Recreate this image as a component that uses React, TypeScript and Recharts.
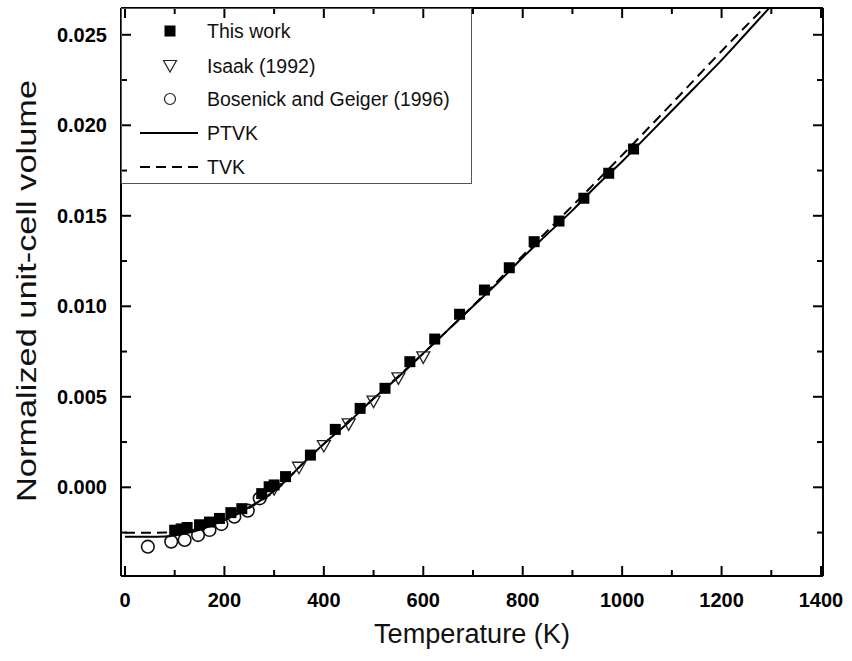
import {
  ComposedChart,
  Legend,
  Line,
  ReferenceLine,
  Scatter,
  XAxis,
  YAxis,
} from 'recharts'

// This work (squares)
const thisWorkT = [100, 113, 125, 150, 170, 190, 213, 235, 275, 290, 300, 323, 373, 423, 473, 523, 573, 623, 673, 723, 773, 823, 873, 923, 973, 1023]
const thisWorkV = [-0.00237, -0.0023, -0.00222, -0.00207, -0.00192, -0.00172, -0.0014, -0.00118, -0.00035, 0.00003, 0.00013, 0.00059, 0.00178, 0.0032, 0.00436, 0.00547, 0.00694, 0.00819, 0.00956, 0.0109, 0.01213, 0.01357, 0.01471, 0.01597, 0.01735, 0.01869]

// Isaak (1992) (open down-triangles)
const isaakT = [300, 350, 400, 450, 500, 550, 600]
const isaakV = [-0.0001, 0.00108, 0.00228, 0.00348, 0.00473, 0.00602, 0.00718]

// Bosenick and Geiger (1996) (open circles)
const bosenickT = [46, 93, 120, 147, 170, 194, 220, 247, 271]
const bosenickV = [-0.00328, -0.003, -0.00291, -0.00264, -0.00236, -0.00203, -0.00162, -0.00129, -0.00061]

// PTVK fit (solid)
const ptvkT = [0, 50, 80, 100, 125, 150, 175, 200, 225, 250, 275, 300, 325, 350, 400, 450, 500, 550, 600, 650, 700, 750, 800, 850, 900, 950, 1000, 1050, 1100, 1150, 1200, 1250, 1300]
const ptvkV = [-0.00273, -0.00273, -0.00272, -0.00265, -0.00253, -0.00235, -0.0021, -0.0018, -0.00146, -0.0011, -0.00068, -0.0002, 0.0004, 0.0011, 0.0024, 0.0036, 0.0049, 0.0061, 0.0074, 0.0087, 0.01, 0.0113, 0.0127, 0.014, 0.0153, 0.0167, 0.018, 0.0194, 0.0208, 0.0222, 0.0236, 0.0251, 0.0266]

// TVK fit (dashed)
const tvkT = [0, 50, 80, 100, 125, 150, 175, 200, 225, 250, 275, 300, 350, 400, 500, 600, 700, 800, 900, 1000, 1100, 1200, 1300]
const tvkV = [-0.00251, -0.00251, -0.0025, -0.00247, -0.0024, -0.00228, -0.00208, -0.00182, -0.0015, -0.00113, -0.00071, -0.00024, 0.0011, 0.0024, 0.0049, 0.0074, 0.01003, 0.0128, 0.01555, 0.01835, 0.0212, 0.0241, 0.0269]

const xTicks = [0, 100, 200, 300, 400, 500, 600, 700, 800, 900, 1000, 1100, 1200, 1300, 1400]
const yTicks = [-0.0025, 0, 0.0025, 0.005, 0.0075, 0.01, 0.0125, 0.015, 0.0175, 0.02, 0.0225, 0.025]

const legendLabels = ['This work', 'Isaak (1992)', 'Bosenick and Geiger (1996)', 'PTVK', 'TVK']

const toPoints = (t: number[], v: number[]) => t.map((T, i) => ({ T, V: v[i] }))

const FONT = '"Liberation Sans", Arial, sans-serif'
const PLOT = { left: 121, right: 823, top: 8, bottom: 576 }

const isMajor = (v: number, step: number) => Math.abs(Math.round(v / step) * step - v) < 1e-9

function LeftTick(props: any) {
  const { y, payload } = props
  const major = isMajor(payload.value, 0.005)
  const len = major ? 10 : 6
  return (
    <g>
      <path d={`M${PLOT.left},${y}h${len}`} stroke="#000" strokeWidth={2} fill="none" />
      <path d={`M${PLOT.right},${y}h${-len}`} stroke="#000" strokeWidth={2} fill="none" />
      {major && (
        <text
          x={107}
          y={y}
          textAnchor="end"
          dominantBaseline="central"
          fontFamily={FONT}
          fontWeight="bold"
          fontSize={20}
          fill="#000"
        >
          {payload.value.toFixed(3)}
        </text>
      )}
    </g>
  )
}

function BottomTick(props: any) {
  const { x, payload } = props
  const major = isMajor(payload.value, 200)
  const len = major ? 10 : 6
  return (
    <g>
      <path d={`M${x},${PLOT.bottom}v${-len}`} stroke="#000" strokeWidth={2} fill="none" />
      <path d={`M${x},${PLOT.top}v${len}`} stroke="#000" strokeWidth={2} fill="none" />
      {major && (
        <text
          x={x}
          y={600}
          textAnchor="middle"
          dominantBaseline="central"
          fontFamily={FONT}
          fontWeight="bold"
          fontSize={20}
          fill="#000"
        >
          {payload.value}
        </text>
      )}
    </g>
  )
}

const SquareDot = ({ cx, cy }: any) => (
  <rect x={cx - 5.5} y={cy - 5.5} width={11} height={11} fill="#000" />
)

const TriangleDot = ({ cx, cy }: any) => (
  <polygon
    points={`${cx - 6.5},${cy - 5.5} ${cx + 6.5},${cy - 5.5} ${cx},${cy + 6}`}
    fill="none"
    stroke="#222"
    strokeWidth={1.3}
  />
)

const CircleDot = ({ cx, cy }: any) => (
  <circle cx={cx} cy={cy} r={6.3} fill="none" stroke="#111" strokeWidth={1.6} />
)

function LegendBox() {
  const rowY = [23, 58, 91, 125, 159]
  const textStyle = { fontFamily: FONT, fontSize: 19.5, fill: '#111' }
  return (
    <svg width={351} height={176} style={{ display: 'block' }}>
      <rect x={0.5} y={0.5} width={350} height={175} fill="none" stroke="#555" strokeWidth={1} />
      <rect x={43.5} y={rowY[0] - 5.5} width={11} height={11} fill="#000" />
      <polygon
        points={`${42.5},${rowY[1] - 5.5} ${55.5},${rowY[1] - 5.5} ${49},${rowY[1] + 6}`}
        fill="none"
        stroke="#222"
        strokeWidth={1.2}
      />
      <circle cx={49} cy={rowY[2]} r={5.5} fill="none" stroke="#222" strokeWidth={1.2} />
      <line x1={19} x2={77} y1={rowY[3]} y2={rowY[3]} stroke="#000" strokeWidth={2} />
      <line x1={19} x2={77} y1={rowY[4]} y2={rowY[4]} stroke="#000" strokeWidth={2} strokeDasharray="10 6" />
      {legendLabels.map((label, i) => (
        <text key={label} x={86} y={rowY[i]} dominantBaseline="central" style={textStyle}>
          {label}
        </text>
      ))}
    </svg>
  )
}

export default function App() {
  return (
    <div style={{ position: 'absolute', left: 0, top: 0, width: 852, height: 661, background: '#fff' }}>
      <ComposedChart
        width={852}
        height={661}
        margin={{ top: 8, right: 29, bottom: 0, left: 0 }}
      >
        <XAxis
          type="number"
          dataKey="T"
          domain={[-8, 1404]}
          allowDataOverflow
          ticks={xTicks}
          interval={0}
          tickLine={false}
          tick={(p: any) => <BottomTick {...p} />}
          height={85}
          axisLine={{ stroke: '#000', strokeWidth: 2 }}
        />
        <YAxis
          type="number"
          dataKey="V"
          domain={[-0.0049, 0.02648]}
          allowDataOverflow
          ticks={yTicks}
          interval={0}
          tickLine={false}
          tick={(p: any) => <LeftTick {...p} />}
          width={121}
          axisLine={{ stroke: '#000', strokeWidth: 2 }}
        />
        <ReferenceLine y={0.02648} stroke="#000" strokeWidth={2} />
        <ReferenceLine x={1404} stroke="#000" strokeWidth={2} />
        <Legend
          layout="vertical"
          align="center"
          verticalAlign="middle"
          content={() => <LegendBox />}
          wrapperStyle={{ position: 'absolute', left: 121, top: 8, width: 351, height: 176 }}
        />
        <Line
          data={toPoints(ptvkT, ptvkV)}
          dataKey="V"
          name="PTVK"
          type="monotone"
          stroke="#000"
          strokeWidth={2}
          dot={false}
          isAnimationActive={false}
        />
        <Line
          data={toPoints(tvkT, tvkV)}
          dataKey="V"
          name="TVK"
          type="monotone"
          stroke="#000"
          strokeWidth={2}
          strokeDasharray="10 6"
          dot={false}
          isAnimationActive={false}
        />
        <Scatter
          data={toPoints(bosenickT, bosenickV)}
          dataKey="V"
          name="Bosenick and Geiger (1996)"
          shape={<CircleDot />}
          isAnimationActive={false}
        />
        <Scatter
          data={toPoints(isaakT, isaakV)}
          dataKey="V"
          name="Isaak (1992)"
          shape={<TriangleDot />}
          isAnimationActive={false}
        />
        <Scatter
          data={toPoints(thisWorkT, thisWorkV)}
          dataKey="V"
          name="This work"
          shape={<SquareDot />}
          isAnimationActive={false}
        />
      </ComposedChart>
      <svg width={852} height={661} style={{ position: 'absolute', left: 0, top: 0, pointerEvents: 'none' }}>
        <text
          x={472}
          y={634}
          textAnchor="middle"
          dominantBaseline="central"
          fontFamily={FONT}
          fontSize={27}
          textLength={196}
          lengthAdjust="spacingAndGlyphs"
          fill="#111"
        >
          Temperature (K)
        </text>
        <text
          x={0}
          y={0}
          transform="translate(27, 291) rotate(-90)"
          textAnchor="middle"
          dominantBaseline="central"
          fontFamily={FONT}
          fontSize={27}
          textLength={422}
          lengthAdjust="spacingAndGlyphs"
          fill="#111"
        >
          Normalized unit-cell volume
        </text>
      </svg>
    </div>
  )
}
